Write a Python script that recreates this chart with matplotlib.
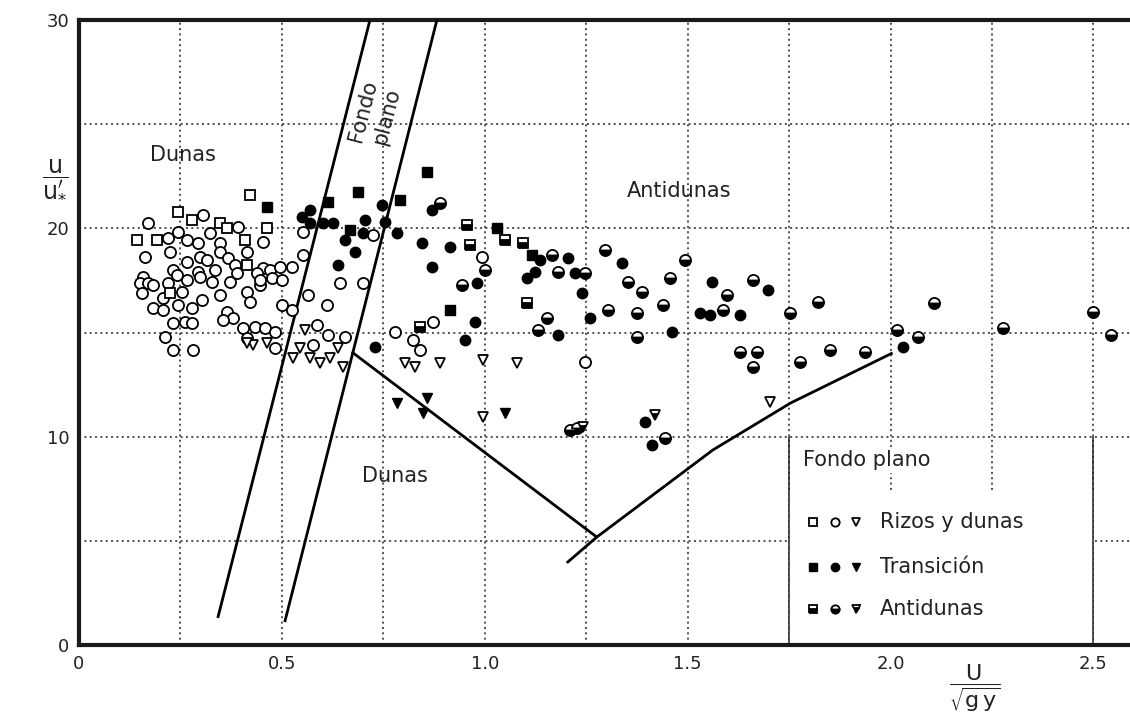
import matplotlib
matplotlib.use("Agg")
import numpy as np
import matplotlib.pyplot as plt
from matplotlib.patches import Rectangle

plt.rcParams['font.family'] = ['DejaVu Sans']
plt.rcParams['mathtext.fontset'] = 'dejavusans'

# ---- Rizos y dunas (open symbols) ----
rizos_circ_x = [0.305, 0.170, 0.392, 0.244, 0.219, 0.266, 0.293, 0.323, 0.347, 0.453,
                0.163, 0.224, 0.298, 0.315, 0.347, 0.367, 0.414, 0.266, 0.384, 0.453,
                0.232, 0.293, 0.335, 0.158, 0.150, 0.170, 0.155, 0.182, 0.219, 0.241,
                0.266, 0.298, 0.328, 0.372, 0.389, 0.438, 0.446, 0.254, 0.207, 0.182,
                0.207, 0.244, 0.278, 0.303, 0.347, 0.414, 0.421, 0.365, 0.379, 0.355,
                0.232, 0.261, 0.278, 0.212, 0.232, 0.281, 0.404, 0.433, 0.458, 0.414,
                0.470, 0.495, 0.525, 0.552, 0.552, 0.500, 0.525, 0.564, 0.611, 0.643,
                0.700, 0.483, 0.586, 0.613, 0.655, 0.576, 0.483, 0.778, 0.724, 0.475,
                0.500, 0.446, 0.872, 0.823, 0.840, 0.993, 1.246]
rizos_circ_y = [20.64, 20.26, 20.07, 19.83, 19.54, 19.44, 19.30, 19.78, 19.30, 19.35,
                18.63, 18.87, 18.63, 18.48, 18.87, 18.58, 18.87, 18.39, 18.24, 18.10,
                18.00, 17.91, 18.00, 17.67, 17.38, 17.38, 16.90, 17.28, 17.38, 17.76,
                17.52, 17.67, 17.43, 17.43, 17.86, 17.86, 17.28, 16.95, 16.66, 16.18,
                16.08, 16.32, 16.18, 16.56, 16.80, 16.95, 16.47, 15.99, 15.70, 15.60,
                15.46, 15.51, 15.46, 14.79, 14.16, 14.16, 15.22, 15.27, 15.22, 14.74,
                18.00, 18.15, 18.15, 18.72, 19.83, 16.32, 16.08, 16.80, 16.32, 17.38,
                17.38, 15.03, 15.36, 14.88, 14.79, 14.40, 14.26, 15.03, 19.68, 17.62,
                17.52, 17.52, 15.51, 14.64, 14.16, 18.63, 13.59]
rizos_sq_x = [0.421, 0.244, 0.278, 0.347, 0.463, 0.143, 0.192, 0.409, 0.414, 0.224, 0.365]
rizos_sq_y = [21.60, 20.79, 20.40, 20.26, 20.02, 19.44, 19.44, 19.44, 18.24, 16.90, 20.02]
rizos_tri_x = [0.429, 0.463, 0.414, 0.544, 0.638, 0.527, 0.569, 0.594, 0.618, 0.650,
               0.557, 0.803, 0.828, 0.889, 0.995, 1.079, 0.995, 1.702]
rizos_tri_y = [14.40, 14.50, 14.50, 14.26, 14.26, 13.78, 13.78, 13.54, 13.78, 13.35,
               15.12, 13.54, 13.35, 13.54, 13.68, 13.54, 10.95, 11.67]

# ---- Transición (filled symbols) ----
trans_sq_x = [0.463, 0.613, 0.687, 0.791, 0.857, 0.667, 0.914, 1.116, 1.030]
trans_sq_y = [21.03, 21.27, 21.75, 21.37, 22.71, 19.92, 16.08, 18.72, 20.02]
trans_circ_x = [0.569, 0.549, 0.569, 0.601, 0.626, 0.704, 0.700, 0.655, 0.680, 0.638,
                0.746, 0.754, 0.783, 0.729, 0.869, 0.845, 0.914, 0.869, 0.980, 0.975,
                0.951, 1.135, 1.204, 1.222, 1.239, 1.103, 1.123, 1.259, 1.180, 1.337,
                1.559, 1.530, 1.554, 1.697, 1.628, 2.030, 1.394, 1.411, 1.461]
trans_circ_y = [20.88, 20.55, 20.26, 20.26, 20.26, 20.40, 19.78, 19.44, 18.87, 18.24,
                21.12, 20.31, 19.78, 14.31, 20.88, 19.30, 19.11, 18.15, 17.38, 15.51,
                14.64, 18.48, 18.58, 17.86, 16.90, 17.62, 17.91, 15.70, 14.88, 18.34,
                17.43, 15.94, 15.84, 17.04, 15.84, 14.31, 10.71, 9.60, 15.03]
trans_tri_x = [0.783, 0.847, 0.857, 1.049]
trans_tri_y = [11.62, 11.14, 11.86, 11.14]

# ---- Antidunas (half-filled symbols) ----
anti_sq_x = [0.956, 0.963, 0.840, 1.049, 1.094, 1.103]
anti_sq_y = [20.16, 19.20, 15.27, 19.44, 19.30, 16.42]
anti_circ_x = [0.889, 1.000, 0.943, 1.165, 1.180, 1.246, 1.153, 1.131, 1.296, 1.352,
               1.387, 1.303, 1.374, 1.374, 1.438, 1.456, 1.493, 1.586, 1.596, 1.660,
               1.751, 1.820, 1.628, 1.670, 1.660, 1.776, 1.850, 1.936, 2.015, 2.067,
               2.108, 2.276, 2.498, 2.544, 1.209, 1.227, 1.443]
anti_circ_y = [21.22, 18.00, 17.28, 18.72, 17.91, 17.86, 15.70, 15.12, 18.96, 17.43,
               16.95, 16.08, 15.94, 14.79, 16.32, 17.62, 18.48, 16.08, 16.80, 17.52,
               15.94, 16.47, 14.07, 14.07, 13.35, 13.59, 14.16, 14.07, 15.12, 14.79,
               16.42, 15.22, 15.99, 14.88, 10.32, 10.42, 9.94]
anti_tri_x = [1.241, 1.419]
anti_tri_y = [10.47, 11.04]

# ---- Regime boundaries ----
band_left_x = [0.342, 0.717]
band_left_y = [1.30, 30.0]
band_right_x = [0.507, 0.882]
band_right_y = [1.10, 30.0]
v_left_x = [0.672, 1.276]
v_left_y = [14.07, 5.18]
v_right_x = [1.202, 1.276, 1.562, 1.754, 2.005]
v_right_y = [3.94, 5.18, 9.36, 11.62, 14.02]

x_ticks = [0, 0.5, 1.0, 1.5, 2.0, 2.5]
x_tick_labels = ['0', '0.5', '1.0', '1.5', '2.0', '2.5']
y_ticks = [0, 10, 20, 30]
y_tick_labels = ['0', '10', '20', '30']

W, H = 1130, 721
fig = plt.figure(figsize=(W / 100, H / 100), dpi=100)
ax = fig.add_axes([79 / W, 1 - 645 / H, 1 - 79 / W, (645 - 20) / H])
ax.set_xlim(0, 2.59)
ax.set_ylim(0, 30)

# dotted reference grid
grid_kw = dict(color='#222222', lw=1.1, ls=(0, (1.3, 2.2)), zorder=1)
for gx in np.arange(0.25, 2.6, 0.25):
    ax.axvline(gx, **grid_kw)
for gy in range(5, 30, 5):
    ax.axhline(gy, **grid_kw)

# blank panel holding the key
ax.add_patch(Rectangle((1.75, 0), 0.75, 7.4, facecolor='white', edgecolor='none', zorder=1.5))
ax.plot([1.75, 1.75], [0, 10], color='#222222', lw=1.1, zorder=1.6)
ax.plot([2.5, 2.5], [0, 10], color='#222222', lw=1.1, zorder=1.6)

# frame
for side in ['left', 'bottom', 'top']:
    ax.spines[side].set_linewidth(3)
    ax.spines[side].set_color('#1a1a1a')
ax.spines['right'].set_visible(False)

ax.set_xticks(x_ticks)
ax.set_xticklabels(x_tick_labels)
ax.set_yticks(y_ticks)
ax.set_yticklabels(y_tick_labels)
ax.tick_params(length=0, labelsize=13, pad=7, colors='#222222')

# boundary lines
line_kw = dict(color='black', lw=2.0, zorder=3, solid_capstyle='butt')
ax.plot(band_left_x, band_left_y, **line_kw)
ax.plot(band_right_x, band_right_y, **line_kw)
ax.plot(v_left_x, v_left_y, **line_kw)
ax.plot(v_right_x, v_right_y, **line_kw)

# data points
open_kw = dict(ls='none', mfc='white', mec='black', mew=1.3, zorder=4)
ax.plot(rizos_circ_x, rizos_circ_y, marker='o', ms=8, **open_kw)
ax.plot(rizos_sq_x, rizos_sq_y, marker='s', ms=7, **open_kw)
ax.plot(rizos_tri_x, rizos_tri_y, marker='v', ms=7, **open_kw)

fill_kw = dict(ls='none', color='black', zorder=4)
ax.plot(trans_circ_x, trans_circ_y, marker='o', ms=7.5, **fill_kw)
ax.plot(trans_sq_x, trans_sq_y, marker='s', ms=7, **fill_kw)
ax.plot(trans_tri_x, trans_tri_y, marker='v', ms=7.5, **fill_kw)

half_kw = dict(ls='none', fillstyle='bottom', mfc='black', markerfacecoloralt='white',
               mec='black', mew=1.3, zorder=4)
ax.plot(anti_circ_x, anti_circ_y, marker='o', ms=8, **half_kw)
ax.plot(anti_sq_x, anti_sq_y, marker='s', ms=7, **half_kw)
ax.plot(anti_tri_x, anti_tri_y, marker='v', ms=7.5, **half_kw)

# regime names
txt_kw = dict(fontsize=15, color='#222222', zorder=5)
ax.text(0.256, 23.5, 'Dunas', ha='center', va='center', **txt_kw)
ax.text(0.778, 8.1, 'Dunas', ha='center', va='center', **txt_kw)
ax.text(1.48, 21.8, 'Antidunas', ha='center', va='center', **txt_kw)
ax.text(0.729, 25.5, 'Fondo\nplano', ha='center', va='center', rotation=75.6,
        rotation_mode='anchor', linespacing=1.3, **txt_kw)
ax.text(1.783, 8.88, 'Fondo plano', ha='left', va='center',
        bbox=dict(facecolor='white', edgecolor='none', pad=2), **txt_kw)

# key
key_rows = [5.9, 3.74, 1.75]
key_labels = ['Rizos y dunas', 'Transición', 'Antidunas']
key_mx = [1.808, 1.862, 1.916]
key_styles = [open_kw, fill_kw, half_kw]
for ry, lab, st in zip(key_rows, key_labels, key_styles):
    for mx, mk in zip(key_mx, ['s', 'o', 'v']):
        kw = dict(st)
        kw['zorder'] = 6
        ax.plot([mx], [ry], marker=mk, ms=6, **kw)
    ax.text(1.973, ry, lab, ha='left', va='center', fontsize=15, color='#222222', zorder=6)

# axis quantities
fig.text(55 / W, 1 - 178 / H, r'$\dfrac{\mathrm{u}}{\mathrm{u}^{\prime}_{*}}$',
         ha='center', va='center', fontsize=17, color='#222222')
fig.text(975 / W, 1 - 688 / H, r'$\dfrac{\mathrm{U}}{\sqrt{\mathrm{g\,y}}}$',
         ha='center', va='center', fontsize=16, color='#222222')

fig.savefig('out.png', dpi=100, facecolor='white')
